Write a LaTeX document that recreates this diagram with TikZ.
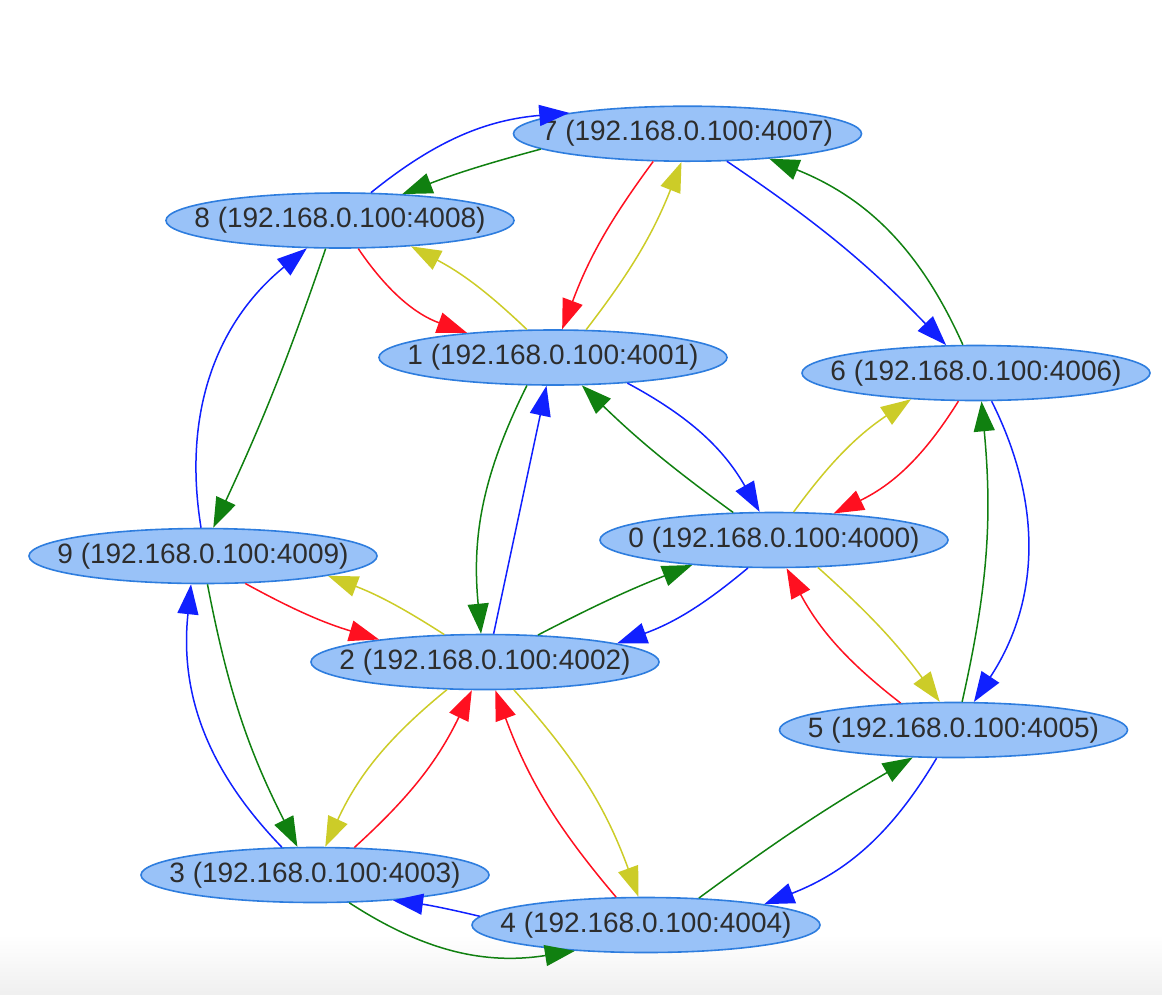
\documentclass[tikz,border=0pt]{standalone}
\usepackage{fontspec}
\setmainfont{Liberation Sans}
\usetikzlibrary{shapes.geometric,arrows.meta}
\definecolor{cblue}{RGB}{16,32,255}
\definecolor{cgreen}{RGB}{16,128,16}
\definecolor{cred}{RGB}{255,16,32}
\definecolor{cyel}{RGB}{204,204,40}
\definecolor{nfill}{RGB}{153,194,248}
\definecolor{nline}{RGB}{46,125,222}
\definecolor{ntext}{RGB}{45,45,45}
\newcommand\iplabel[1]{\raisebox{-11.5pt}{\makebox[0pt]{#1}}}
\tikzset{
  nd/.style={ellipse, draw=nline, fill=nfill, line width=1.6pt, minimum width=348pt, minimum height=55pt,
    inner sep=0pt, text=ntext, font=\fontsize{28pt}{30pt}\selectfont},
  eb/.style={line width=1.5pt, -{Triangle[length=30pt,width=21pt]}},
}
\begin{document}
\begin{tikzpicture}[x=1pt,y=-1pt]
\useasboundingbox (0,0) rectangle (1162,994);
\shade[top color=white, bottom color=black!6] (0,935) rectangle (1162,994);
\node[nd] (n0) at (774,540) {\iplabel{0 (192.168.0.100:4000)}};
\node[nd] (n1) at (553,357.5) {\iplabel{1 (192.168.0.100:4001)}};
\node[nd] (n2) at (485,662) {\iplabel{2 (192.168.0.100:4002)}};
\node[nd] (n3) at (315,875) {\iplabel{3 (192.168.0.100:4003)}};
\node[nd] (n4) at (646,925) {\iplabel{4 (192.168.0.100:4004)}};
\node[nd] (n5) at (953.5,730) {\iplabel{5 (192.168.0.100:4005)}};
\node[nd] (n6) at (976,373) {\iplabel{6 (192.168.0.100:4006)}};
\node[nd] (n7) at (687.5,133.7) {\iplabel{7 (192.168.0.100:4007)}};
\node[nd] (n8) at (340,220.5) {\iplabel{8 (192.168.0.100:4008)}};
\node[nd] (n9) at (203,556) {\iplabel{9 (192.168.0.100:4009)}};
% 8 <-> 7
\draw[eb,cblue] (n8.42) to[bend left=17] (n7.170);
\draw[eb,cgreen] (n7.186.7) to[bend right=3] (n8.23.3);
% 7 <-> 1
\draw[eb,cred] (n7.219.7) to[bend right=8] (n1.72.4);
\draw[eb,cyel] (n1.40.2) to[bend right=8] (n7.258.1);
% 8 <-> 1
\draw[eb,cred] (n8.303.8) to[bend right=18] (n1.164.2);
\draw[eb,cyel] (n1.133.4) to[bend right=8] (n8.340.7);
% 7 <-> 6
\draw[eb,cblue] (n7.325.6) to[bend left=6] (n6.137.2);
\draw[eb,cgreen] (n6.115.9) to[bend right=22] (n7.343.7);
% 1 <-> 0
\draw[eb,cblue] (n1.341.3) to[bend left=16] (n0.117);
\draw[eb,cgreen] (n0.146.7) to[bend left=4] (n1.316.6);
% 6 <-> 0
\draw[eb,cred] (n6.238.6) to[bend left=16] (n0.24.9);
\draw[eb,cyel] (n0.55.6) to[bend left=10] (n6.202.2);
% 6 <-> 5
\draw[eb,cblue] (n6.299.8) to[bend left=30] (n5.54);
\draw[eb,cgreen] (n5.73.4) to[bend right=9] (n6.281.7);
% 0 <-> 5
\draw[eb,cyel] (n0.328) to[bend left=6] (n5.116.2);
\draw[eb,cred] (n5.153.9) to[bend left=12] (n0.294.9);
% 0 <-> 2
\draw[eb,cblue] (n0.227) to[bend left=10] (n2.8.2);
\draw[eb,cgreen] (n2.27.7) to[bend left=3] (n0.197.2);
% 1 <-> 2
\draw[eb,cgreen] (n1.227.4) to[bend right=16] (n2.98.3);
\draw[eb,cblue] (n2.73.1) -- (n1.257.7);
% 8 <-> 9
\draw[eb,cgreen] (n8.243) to[bend left=3] (n9.70.6);
\draw[eb,cblue] (n9.94.8) to[bend left=30] (n8.220.4);
% 9 <-> 2
\draw[eb,cred] (n9.327.6) to[bend right=6] (n2.168.8);
\draw[eb,cyel] (n2.146.2) to[bend right=6] (n9.351.1);
% 9 <-> 3
\draw[eb,cgreen] (n9.279.7) to[bend right=8] (n3.122.3);
\draw[eb,cblue] (n3.140.9) to[bend left=25] (n9.247.6);
% 2 <-> 3
\draw[eb,cyel] (n2.216.2) to[bend right=13] (n3.70);
\draw[eb,cred] (n3.35) to[bend right=11] (n2.245.1);
% 2 <-> 4
\draw[eb,cyel] (n2.316.2) to[bend left=11] (n4.105.6);
\draw[eb,cred] (n4.137.2) to[bend left=10] (n2.290);
% 4 <-> 5
\draw[eb,cgreen] (n4.27.4) to[bend left=3] (n5.214.8);
\draw[eb,cblue] (n5.239.4) to[bend left=19] (n4.10.6);
% 4 <-> 3
\draw[eb,cblue] (n4.177.5) to[bend right=3] (n3.342.1);
\draw[eb,cgreen] (n3.321) to[bend right=21] (n4.200);
\end{tikzpicture}
\end{document}
